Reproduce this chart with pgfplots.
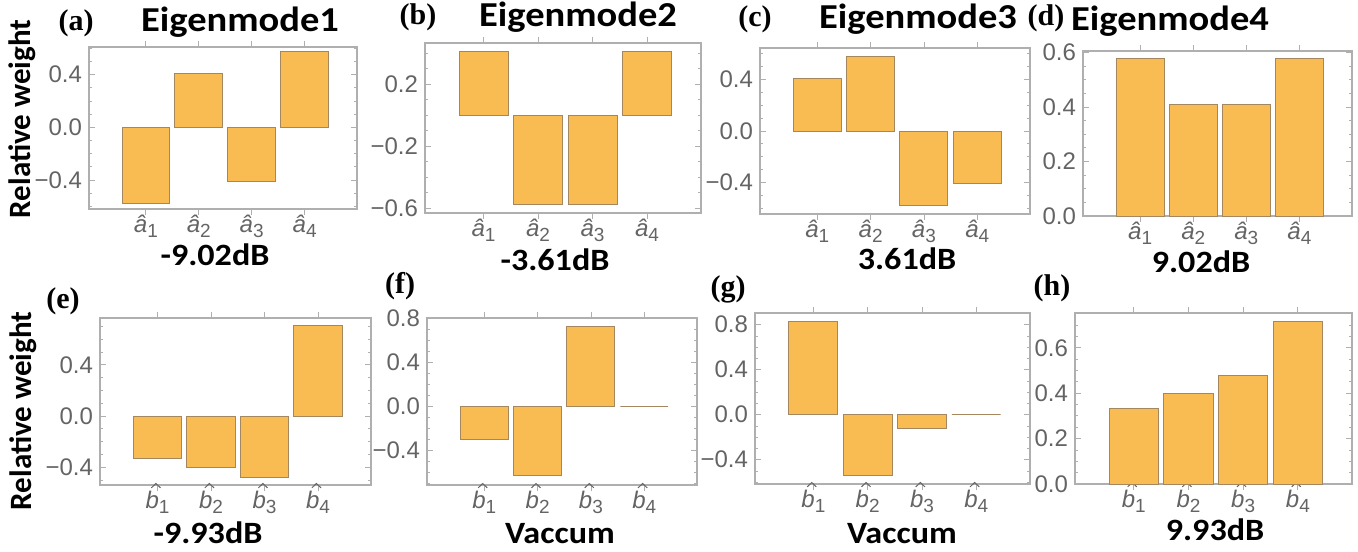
\documentclass[border=0pt]{standalone}
\usepackage{pgfplots}
\pgfplotsset{compat=1.18}
\usepackage{fontspec}
\setmainfont{Liberation Sans}
\newfontfamily\carl{Carlito}
\newfontfamily\carlw[FakeStretch=1.1]{Carlito}
\newfontfamily\timesf{Liberation Serif}

\definecolor{barfill}{RGB}{249,188,82}
\definecolor{baredge}{RGB}{165,135,95}
\definecolor{framegray}{RGB}{175,175,175}
\definecolor{labgray}{RGB}{100,100,100}

% hatted mode operators for the tick labels
\newcommand{\sub}[1]{\raisebox{-0.24em}{\fontsize{9.5}{10}\selectfont #1}}
\newcommand{\ha}[1]{{\itshape \^{a}}\sub{#1}}
\newcommand{\hathigh}{\tikz[baseline=0pt]{\draw[draw=labgray, line width=0.5pt,
  line join=miter] (0,0.84em) -- (0.19em,1.02em) -- (0.38em,0.84em);}}
\newcommand{\hb}[1]{\rlap{\kern0.22em\hathigh}{\itshape b}\sub{#1}}

\pgfplotsset{
  panel/.style={
    scale only axis,
    ybar, bar width=0.9,
    xmin=-0.075, xmax=4.99,
    xtick={1,2,3,4},
    axis line style={draw=framegray, line width=0.6pt},
    every tick/.style={draw=framegray, line width=0.4pt},
    major tick length=3pt, minor tick length=1.6pt,
    yticklabel style={text=labgray, font=\fontsize{12}{13}\selectfont},
    xticklabel style={text=labgray, font=\fontsize{12}{13}\selectfont,
      anchor=base, yshift=-8.5pt},
  },
  bars/.style={fill=barfill, draw=baredge, line width=0.5pt},
}

\newcommand{\ttl}[1]{{\carlw\bfseries\fontsize{17.5}{18}\selectfont #1}}
\newcommand{\btm}[1]{{\carlw\bfseries\fontsize{15.5}{16}\selectfont #1}}
\newcommand{\plab}[1]{{\timesf\bfseries\fontsize{15}{16}\selectfont (#1)}}

\begin{document}
\begin{tikzpicture}
\path[use as bounding box] (0,0) rectangle (679pt,-275.5pt);

% ---------------- row 1: modes a ----------------
\begin{axis}[panel, at={(44.5pt,-104.5pt)}, anchor=south west,
  width=134pt, height=81pt, ymin=-0.62, ymax=0.61,
  ytick={-0.4,0,0.4}, yticklabels={−0.4,0.0,0.4},
  minor ytick={-0.6,-0.5,...,0.6},
  xticklabels={\ha{1},\ha{2},\ha{3},\ha{4}}]
\addplot[bars] coordinates {(1,-0.577) (2,0.408) (3,-0.408) (4,0.577)};
\end{axis}

\begin{axis}[panel, at={(212.5pt,-106.5pt)}, anchor=south west,
  width=138pt, height=85pt, ymin=-0.632, ymax=0.465,
  ytick={-0.6,-0.2,0.2}, yticklabels={−0.6,−0.2,0.2},
  minor ytick={-0.6,-0.5,...,0.4},
  xticklabels={\ha{1},\ha{2},\ha{3},\ha{4}}]
\addplot[bars] coordinates {(1,0.408) (2,-0.577) (3,-0.577) (4,0.408)};
\end{axis}

\begin{axis}[panel, at={(380pt,-107pt)}, anchor=south west,
  width=135pt, height=83pt, ymin=-0.645, ymax=0.645,
  ytick={-0.4,0,0.4}, yticklabels={−0.4,0.0,0.4},
  minor ytick={-0.6,-0.5,...,0.6},
  xticklabels={\ha{1},\ha{2},\ha{3},\ha{4}}]
\addplot[bars] coordinates {(1,0.408) (2,0.577) (3,-0.577) (4,-0.408)};
\end{axis}

\begin{axis}[panel, at={(541.5pt,-108pt)}, anchor=south west,
  width=134.5pt, height=82.5pt, ymin=0, ymax=0.605,
  ytick={0,0.2,0.4,0.6}, yticklabels={0.0,0.2,0.4,0.6},
  minor ytick={0,0.05,...,0.6},
  xticklabels={\ha{1},\ha{2},\ha{3},\ha{4}}]
\addplot[bars] coordinates {(1,0.577) (2,0.408) (3,0.408) (4,0.577)};
\end{axis}

% ---------------- row 2: modes b ----------------
\begin{axis}[panel, at={(50pt,-242.5pt)}, anchor=south west,
  width=135.5pt, height=83.5pt, ymin=-0.539, ymax=0.766,
  ytick={-0.4,0,0.4}, yticklabels={−0.4,0.0,0.4},
  minor ytick={-0.5,-0.4,...,0.7},
  xticklabels={\hb{1},\hb{2},\hb{3},\hb{4}}]
\addplot[bars] coordinates {(1,-0.33) (2,-0.40) (3,-0.48) (4,0.71)};
\end{axis}

\begin{axis}[panel, at={(213.5pt,-242.5pt)}, anchor=south west,
  width=135pt, height=83.5pt, ymin=-0.712, ymax=0.806,
  ytick={-0.4,0,0.4,0.8}, yticklabels={−0.4,0.0,0.4,0.8},
  minor ytick={-0.7,-0.6,...,0.8},
  xticklabels={\hb{1},\hb{2},\hb{3},\hb{4}}]
\addplot[bars] coordinates {(1,-0.30) (2,-0.63) (3,0.73) (4,0)};
\end{axis}

\begin{axis}[panel, at={(377.5pt,-242pt)}, anchor=south west,
  width=137.5pt, height=85.5pt, ymin=-0.616, ymax=0.904,
  ytick={-0.4,0,0.4,0.8}, yticklabels={−0.4,0.0,0.4,0.8},
  minor ytick={-0.6,-0.5,...,0.9},
  xticklabels={\hb{1},\hb{2},\hb{3},\hb{4}}]
\addplot[bars] coordinates {(1,0.83) (2,-0.54) (3,-0.12) (4,0)};
\end{axis}

\begin{axis}[panel, at={(537.5pt,-242pt)}, anchor=south west,
  width=138.5pt, height=85.5pt, ymin=0, ymax=0.753,
  ytick={0,0.2,0.4,0.6}, yticklabels={0.0,0.2,0.4,0.6},
  minor ytick={0,0.05,...,0.75},
  xticklabels={\hb{1},\hb{2},\hb{3},\hb{4}}]
\addplot[bars] coordinates {(1,0.334) (2,0.40) (3,0.48) (4,0.715)};
\end{axis}

% ---------------- titles and labels ----------------
\node[anchor=base] at (38pt,-15.5pt) {\plab{a}};
\node[anchor=base] at (120pt,-15.75pt) {\ttl{Eigenmode1}};
\node[anchor=base] at (209pt,-12.5pt) {\plab{b}};
\node[anchor=base] at (289pt,-13.5pt) {\ttl{Eigenmode2}};
\node[anchor=base] at (377.5pt,-13.5pt) {\plab{c}};
\node[anchor=base] at (459pt,-14.5pt) {\ttl{Eigenmode3}};
\node[anchor=base] at (523pt,-13pt) {\plab{d}};
\node[anchor=base] at (585pt,-15.5pt) {\ttl{Eigenmode4}};

\node[anchor=base] at (107.5pt,-132.5pt) {\btm{-9.02dB}};
\node[anchor=base] at (277.5pt,-135pt) {\btm{-3.61dB}};
\node[anchor=base] at (453.5pt,-134.8pt) {\btm{3.61dB}};
\node[anchor=base] at (600.5pt,-136pt) {\btm{9.02dB}};

\node[anchor=base] at (31.5pt,-154pt) {\plab{e}};
\node[anchor=base] at (200pt,-146.5pt) {\plab{f}};
\node[anchor=base] at (364pt,-148pt) {\plab{g}};
\node[anchor=base] at (526pt,-147.5pt) {\plab{h}};

\node[anchor=base] at (104pt,-271.5pt) {\btm{-9.93dB}};
\node[anchor=base] at (280pt,-271.5pt) {\btm{Vaccum}};
\node[anchor=base] at (451pt,-271.5pt) {\btm{Vaccum}};
\node[anchor=base] at (607.5pt,-270pt) {\btm{9.93dB}};

\node[rotate=90, anchor=center] at (11pt,-59.5pt)
  {{\carl\bfseries\fontsize{15.5}{16}\selectfont Relative weight}};
\node[rotate=90, anchor=center] at (11.5pt,-205.5pt)
  {{\carl\bfseries\fontsize{15.5}{16}\selectfont Relative weight}};
\end{tikzpicture}
\end{document}
